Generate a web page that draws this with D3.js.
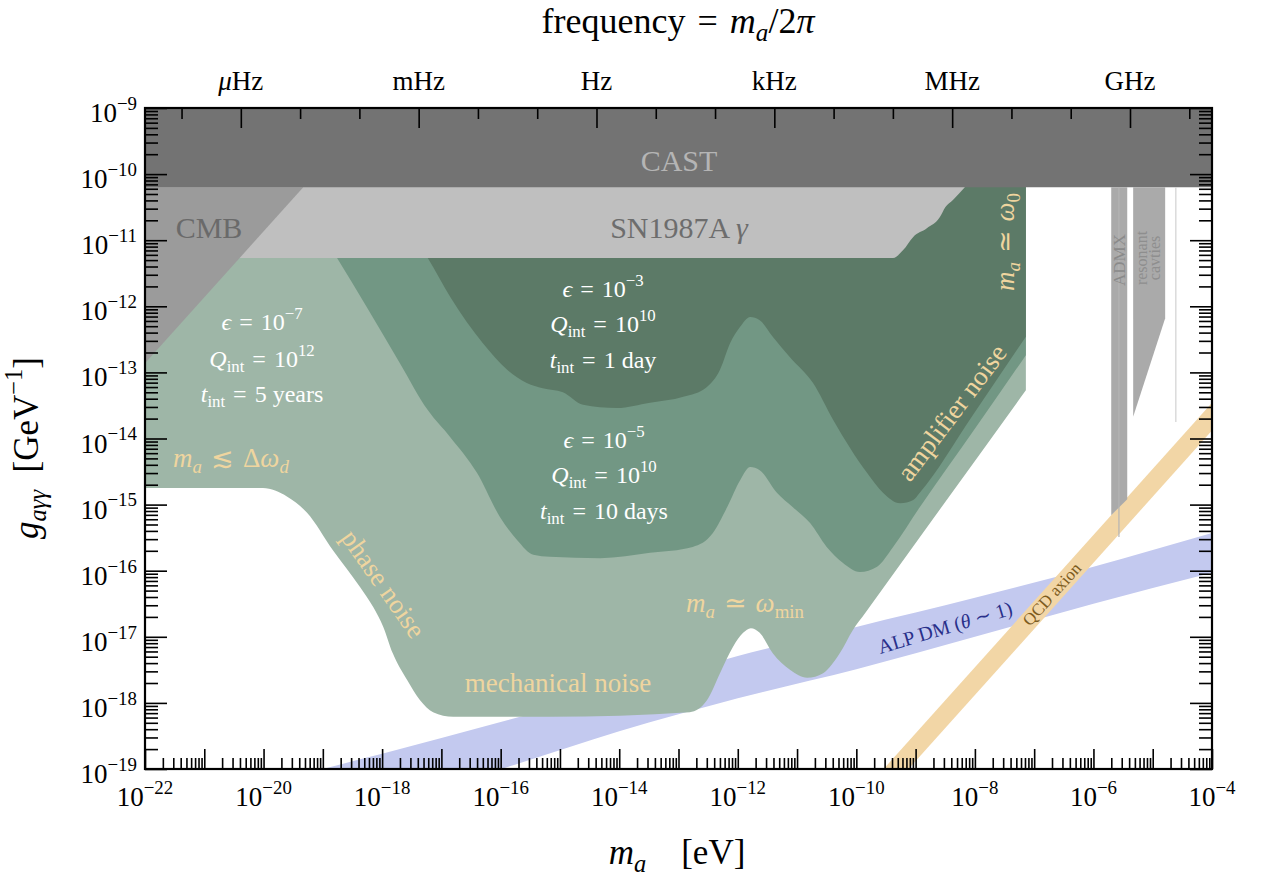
<!DOCTYPE html>
<html>
<head>
<meta charset="utf-8">
<script src="https://cdn.jsdelivr.net/npm/d3@7"></script>
<style>
body { margin: 0; background: #fff; }
svg text { font-family: "Liberation Serif", "DejaVu Serif", serif; white-space: pre; }
</style>
</head>
<body>
<div id="chart"></div>
<script>
// all values are log10: mass m_a in eV, coupling g in GeV^-1

// CAST helioscope
var castMass = [-22, -4];
var castLimit = [-10.2, -10.2];

// SN1987A gamma
var snMass = [-22, -9.38, -9.21, -9.04, -8.81, -8.59, -8.50, -8.37, -8.17];
var snLimit = [-11.27, -11.27, -11.15, -10.95, -10.82, -10.65, -10.50, -10.39, -10.2];

// CMB
var cmbMass = [-22, -19.33, -22];
var cmbLimit = [-10.2, -10.2, -12.86];

// ADMX and resonant cavities
var admxMass = [-5.70, -5.43, -5.43, -5.70];
var admxLimit = [-10.2, -10.2, -14.92, -15.16];
var admxLineMass = [-5.57, -5.57];
var admxLineLimit = [-10.2, -15.49];
var cavMass = [-5.33, -4.79, -4.79, -5.33];
var cavLimit = [-10.2, -10.2, -12.18, -13.67];
var cavLineMass = [-4.61, -4.61];
var cavLineLimit = [-10.2, -13.75];

// projected reach, eps = 1e-7, Q = 1e12, 5 years
var eps7Mass = [-22.00, -20.01, -19.60, -19.27, -18.83, -18.37, -18.15, -17.98, -17.82, -17.58, -17.36, -17.14, -16.80, -15.17,
  -12.81, -12.52, -12.30, -12.08, -11.91, -11.78, -11.63, -11.41, -11.12, -10.83, -10.56, -10.28, -10.06, -9.85, -8.50, -7.14];
var eps7Limit = [-14.75, -14.75, -14.88, -15.12, -15.69, -16.25, -16.55, -16.85, -17.25, -17.65, -17.96, -18.14, -18.21, -18.21,
  -18.14, -17.96, -17.55, -17.15, -16.94, -16.87, -16.94, -17.25, -17.50, -17.62, -17.55, -17.25, -16.90, -16.64, -14.96, -13.27];

// eps = 1e-5, Q = 1e10, 10 days
var eps5Mass = [-19.05, -18.76, -18.26, -17.70, -17.23, -16.85, -16.40, -16.01, -15.72, -15.45, -15.17, -14.32, -13.48, -12.76,
  -12.42, -12.18, -11.96, -11.79, -11.63, -11.34, -11.07, -10.78, -10.50, -10.23, -9.94, -9.65, -9.38, -8.93, -8.03, -7.14];
var eps5Limit = [-10.85, -11.27, -12.01, -12.86, -13.57, -13.98, -14.52, -15.19, -15.54, -15.76, -15.79, -15.81, -15.73, -15.64,
  -15.43, -15.04, -14.63, -14.43, -14.48, -14.82, -15.04, -15.28, -15.64, -15.88, -16.02, -15.94, -15.64, -15.04, -13.89, -12.74];

// eps = 1e-3, Q = 1e10, 1 day
var eps3Mass = [-17.53, -17.23, -16.85, -16.30, -15.89, -15.56, -15.29, -14.95, -14.61, -14.04, -13.48, -12.92, -12.52, -12.30,
  -12.13, -11.96, -11.79, -11.63, -11.41, -11.12, -10.73, -10.39, -9.82, -9.55, -9.26, -9.04, -8.93, -8.03, -7.14];
var eps3Limit = [-10.85, -11.27, -11.86, -12.56, -12.96, -13.16, -13.24, -13.30, -13.49, -13.54, -13.46, -13.37, -13.22, -12.96,
  -12.56, -12.31, -12.16, -12.21, -12.46, -12.77, -13.16, -13.72, -14.52, -14.82, -14.98, -14.93, -14.82, -13.64, -12.46];
var greenTop = -9;

// ALP dark matter band (theta ~ 1)
var alpMass = [-20, -19, -18, -16, -14, -12, -10, -8, -6, -4];
var alpUpper = [-19.25, -19.0, -18.77, -18.29, -17.80, -17.29, -16.85, -16.41, -15.94, -15.43];
var alpLower = [-20.0, -19.75, -19.5, -19.0, -18.43, -17.93, -17.49, -17.0, -16.50, -16.03];

// QCD axion band
var qcdMass = [-10, -4];
var qcdUpper = [-19.46, -13.46];
var qcdLower = [-19.88, -13.88];

// axes
var xMajor = d3.range(-22, -3);
var yMajor = d3.range(-19, -8);
var freqMajor = [-6, -3, 0, 3, 6, 9];
var freqMinor = [-7, -5, -4, -2, -1, 1, 2, 4, 5, 7, 8, 10];
var freqLabels = ["\u03bc", "mHz", "Hz", "kHz", "MHz", "GHz"];
var hzPerEv = 2.418e14;

// set the dimensions and margins of the graph
var margin = {top: 108, right: 75, bottom: 116, left: 145},
    width = 1287 - margin.left - margin.right,
    height = 885 - margin.top - margin.bottom;

var x = d3.scaleLog().domain([1e-22, 1e-4]).range([0, width]);
var y = d3.scaleLog().domain([1e-19, 1e-9]).range([height, 0]);
var xf = d3.scaleLog().domain([1e-22 * hzPerEv, 1e-4 * hzPerEv]).range([0, width]);

function px(v) { return x(Math.pow(10, v)); }
function py(v) { return y(Math.pow(10, v)); }

var svg = d3.select("#chart").append("svg")
    .attr("width", 1287)
    .attr("height", 885);

var g = svg.append("g")
    .attr("transform", "translate(" + margin.left + "," + margin.top + ")");

g.append("clipPath").attr("id", "clip")
  .append("rect").attr("width", width).attr("height", height);

var plot = g.append("g").attr("clip-path", "url(#clip)");

var area = d3.area()
    .x(function(d) { return px(d[0]); })
    .y0(function(d) { return py(d[1]); })
    .y1(function(d) { return py(d[2]); })
    .curve(d3.curveMonotoneX);

var poly = d3.line()
    .x(function(d) { return px(d[0]); })
    .y(function(d) { return py(d[1]); });

function fillArea(m, lo, hi, color) {
  plot.append("path").attr("d", area(d3.zip(m, lo, hi))).attr("fill", color);
}
function fillPoly(m, l, color) {
  plot.append("path").attr("d", poly(d3.zip(m, l)) + "Z").attr("fill", color);
}
function topOf(m) { return m.map(function() { return greenTop; }); }

// bands
fillArea(alpMass, alpLower, alpUpper, "#c3c9ef");
plot.append("path").attr("d", poly(d3.zip(qcdMass, qcdUpper).concat(d3.zip(qcdMass, qcdLower).reverse())) + "Z")
  .attr("fill", "#f2d6a6");

// projected sensitivity
fillArea(eps7Mass, eps7Limit, topOf(eps7Mass), "#9eb6a7");
fillArea(eps5Mass, eps5Limit, topOf(eps5Mass), "#729784");
fillArea(eps3Mass, eps3Limit, topOf(eps3Mass), "#5c7a67");

// existing limits
fillArea(snMass, snLimit, topOf(snMass), "#bfbfbf");
fillPoly(cmbMass, cmbLimit, "#9b9b9b");
fillArea(castMass, castLimit, topOf(castMass), "#737373");
fillPoly(admxMass, admxLimit, "#aaaaaa");
fillPoly(cavMass, cavLimit, "#aaaaaa");
plot.append("path").attr("d", poly(d3.zip(admxLineMass, admxLineLimit))).attr("stroke", "#b4b4b4").attr("stroke-width", 1.2).attr("fill", "none");
plot.append("path").attr("d", poly(d3.zip(cavLineMass, cavLineLimit))).attr("stroke", "#d2d2d2").attr("stroke-width", 1.2).attr("fill", "none");

// rich text helper: parts = [[text, style]], style may hold "it", "sub", "sup"
function rich(t, parts, fs) {
  var cur = 0;
  parts.forEach(function(p) {
    var s = p[1] || "", shift = 0, size = fs;
    if (s.indexOf("sub") >= 0) { shift = 0.22 * fs; size = 0.7 * fs; }
    if (s.indexOf("sup") >= 0) { shift = -0.45 * fs; size = 0.7 * fs; }
    var ts = t.append("tspan").attr("dy", shift - cur).attr("font-size", size).text(p[0]);
    if (s.indexOf("it") >= 0) ts.attr("font-style", "italic");
    cur = shift;
  });
  return t;
}
function label(xp, yp, anchor, color, fs, parts, rot) {
  var t = svg.append("text")
    .attr("text-anchor", anchor)
    .attr("fill", color)
    .attr("font-size", fs);
  if (rot !== undefined) {
    t.attr("transform", "translate(" + xp + "," + yp + ") rotate(" + rot + ")");
  } else {
    t.attr("x", xp).attr("y", yp);
  }
  return rich(t, parts, fs);
}

// region names
label(679, 171, "middle", "#b5b5b5", 30, [["CAST"]]);
label(679, 238, "middle", "#6d6d6d", 30, [["SN1987A "], ["\u03b3", "it"]]);
label(209, 238, "middle", "#6a6a6a", 30, [["CMB"]]);
label(1125, 260, "middle", "#8a8a8a", 17, [["ADMX"]], -90);
label(1147, 258, "middle", "#8e8e8e", 16, [["resonant"]], -90);
label(1160, 258, "middle", "#8e8e8e", 16, [["cavties"]], -90);

// benchmark parameters
var eq = "\u2004=\u2004";
function bench(cx, ys, e, q, tint) {
  label(cx, ys[0], "middle", "#fff", 24, [["\u03f5", "it"], [eq + "10"], ["\u2212" + e, "sup"]]);
  label(cx, ys[1], "middle", "#fff", 24, [["Q", "it"], ["int", "sub"], [eq + "10"], [q, "sup"]]);
  label(cx, ys[2], "middle", "#fff", 24, [["t", "it"], ["int", "sub"], [eq + tint]]);
}
bench(262, [330, 367, 402], "7", "12", "5 years");
bench(603, [297, 332, 368], "3", "10", "1 day");
bench(604, [448, 483, 519], "5", "10", "10 days");

// noise annotations
var yel = "#efd59f";
label(173, 467, "start", yel, 27, [["m", "it"], ["a", "itsub"], ["\u2004\u2272\u2004\u0394"], ["\u03c9", "it"], ["d", "itsub"]]);
label(376, 589, "middle", yel, 27, [["phase noise"]], 55);
label(558, 692, "middle", yel, 27, [["mechanical noise"]]);
label(686, 612, "start", yel, 27, [["m", "it"], ["a", "itsub"], ["\u2004\u2243\u2004"], ["\u03c9", "it"], ["min", "sub"]]);
label(959, 418, "middle", yel, 27, [["amplifier noise"]], -53);
label(1014, 242, "middle", yel, 27, [["m", "it"], ["a", "itsub"], ["\u2004\u2243\u2004"], ["\u03c9", "it"], ["0", "sub"]], -90);
label(947, 634, "middle", "#29308a", 20, [["ALP DM ("], ["\u03b8", "it"], [" \u223c 1)"]], -16.6);
label(1056, 598, "middle", "#7d5c1e", 17, [["QCD axion"]], -48);

// ticks
function styleTicks(sel) {
  sel.select(".domain").remove();
  sel.selectAll("line").attr("stroke", "#000").attr("stroke-width", 1.6);
}
var xMinor = [], yMinor = [];
xMajor.slice(0, -1).forEach(function(e) { d3.range(2, 10).forEach(function(k) { xMinor.push(k * Math.pow(10, e)); }); });
yMajor.slice(0, -1).forEach(function(e) { d3.range(2, 10).forEach(function(k) { yMinor.push(k * Math.pow(10, e)); }); });
var pw = function(e) { return Math.pow(10, e); };

// bottom
g.append("g").attr("transform", "translate(0," + height + ")")
  .call(d3.axisBottom(x).tickValues(xMajor.map(pw)).tickSize(-20).tickFormat("")).call(styleTicks);
g.append("g").attr("transform", "translate(0," + height + ")")
  .call(d3.axisBottom(x).tickValues(xMinor).tickSize(-11).tickFormat("")).call(styleTicks);
// left and right
g.append("g").call(d3.axisLeft(y).tickValues(yMajor.map(pw)).tickSize(-22).tickFormat("")).call(styleTicks);
g.append("g").call(d3.axisLeft(y).tickValues(yMinor).tickSize(-13).tickFormat("")).call(styleTicks);
g.append("g").attr("transform", "translate(" + width + ",0)")
  .call(d3.axisRight(y).tickValues(yMajor.map(pw)).tickSize(-22).tickFormat("")).call(styleTicks);
g.append("g").attr("transform", "translate(" + width + ",0)")
  .call(d3.axisRight(y).tickValues(yMinor).tickSize(-13).tickFormat("")).call(styleTicks);
// top: frequency
g.append("g").call(d3.axisTop(xf).tickValues(freqMajor.map(pw)).tickSize(-20).tickFormat("")).call(styleTicks);
g.append("g").call(d3.axisTop(xf).tickValues(freqMinor.map(pw)).tickSize(-11).tickFormat("")).call(styleTicks);

// frame
g.append("rect").attr("width", width).attr("height", height)
  .attr("fill", "none").attr("stroke", "#000").attr("stroke-width", 2.2);

// tick labels
xMajor.filter(function(e) { return e % 2 === 0; }).forEach(function(e) {
  label(margin.left + px(e), margin.top + height + 37, "middle", "#000", 27, [["10"], ["\u2212" + (-e), "sup"]]);
});
yMajor.forEach(function(e) {
  label(137, margin.top + py(e) + 14, "end", "#000", 27, [["10"], ["\u2212" + (-e), "sup"]]);
});
freqMajor.forEach(function(e, i) {
  var parts = i === 0 ? [["\u03bc", "it"], ["Hz"]] : [[freqLabels[i]]];
  label(margin.left + xf(Math.pow(10, e)), 90, "middle", "#000", 27, parts);
});

// axis titles
label(678, 33, "middle", "#000", 36, [["frequency" + eq], ["m", "it"], ["a", "itsub"], ["/2"], ["\u03c0", "it"]]);
label(677, 864, "middle", "#000", 35, [["m", "it"], ["a", "itsub"], ["\u2002\u2002[eV]"]]);
label(38, 448, "middle", "#000", 35, [["g", "it"], ["a\u03b3\u03b3", "itsub"], ["\u2002[GeV"], ["\u22121", "sup"], ["]"]], -90);
</script>
</body>
</html>
